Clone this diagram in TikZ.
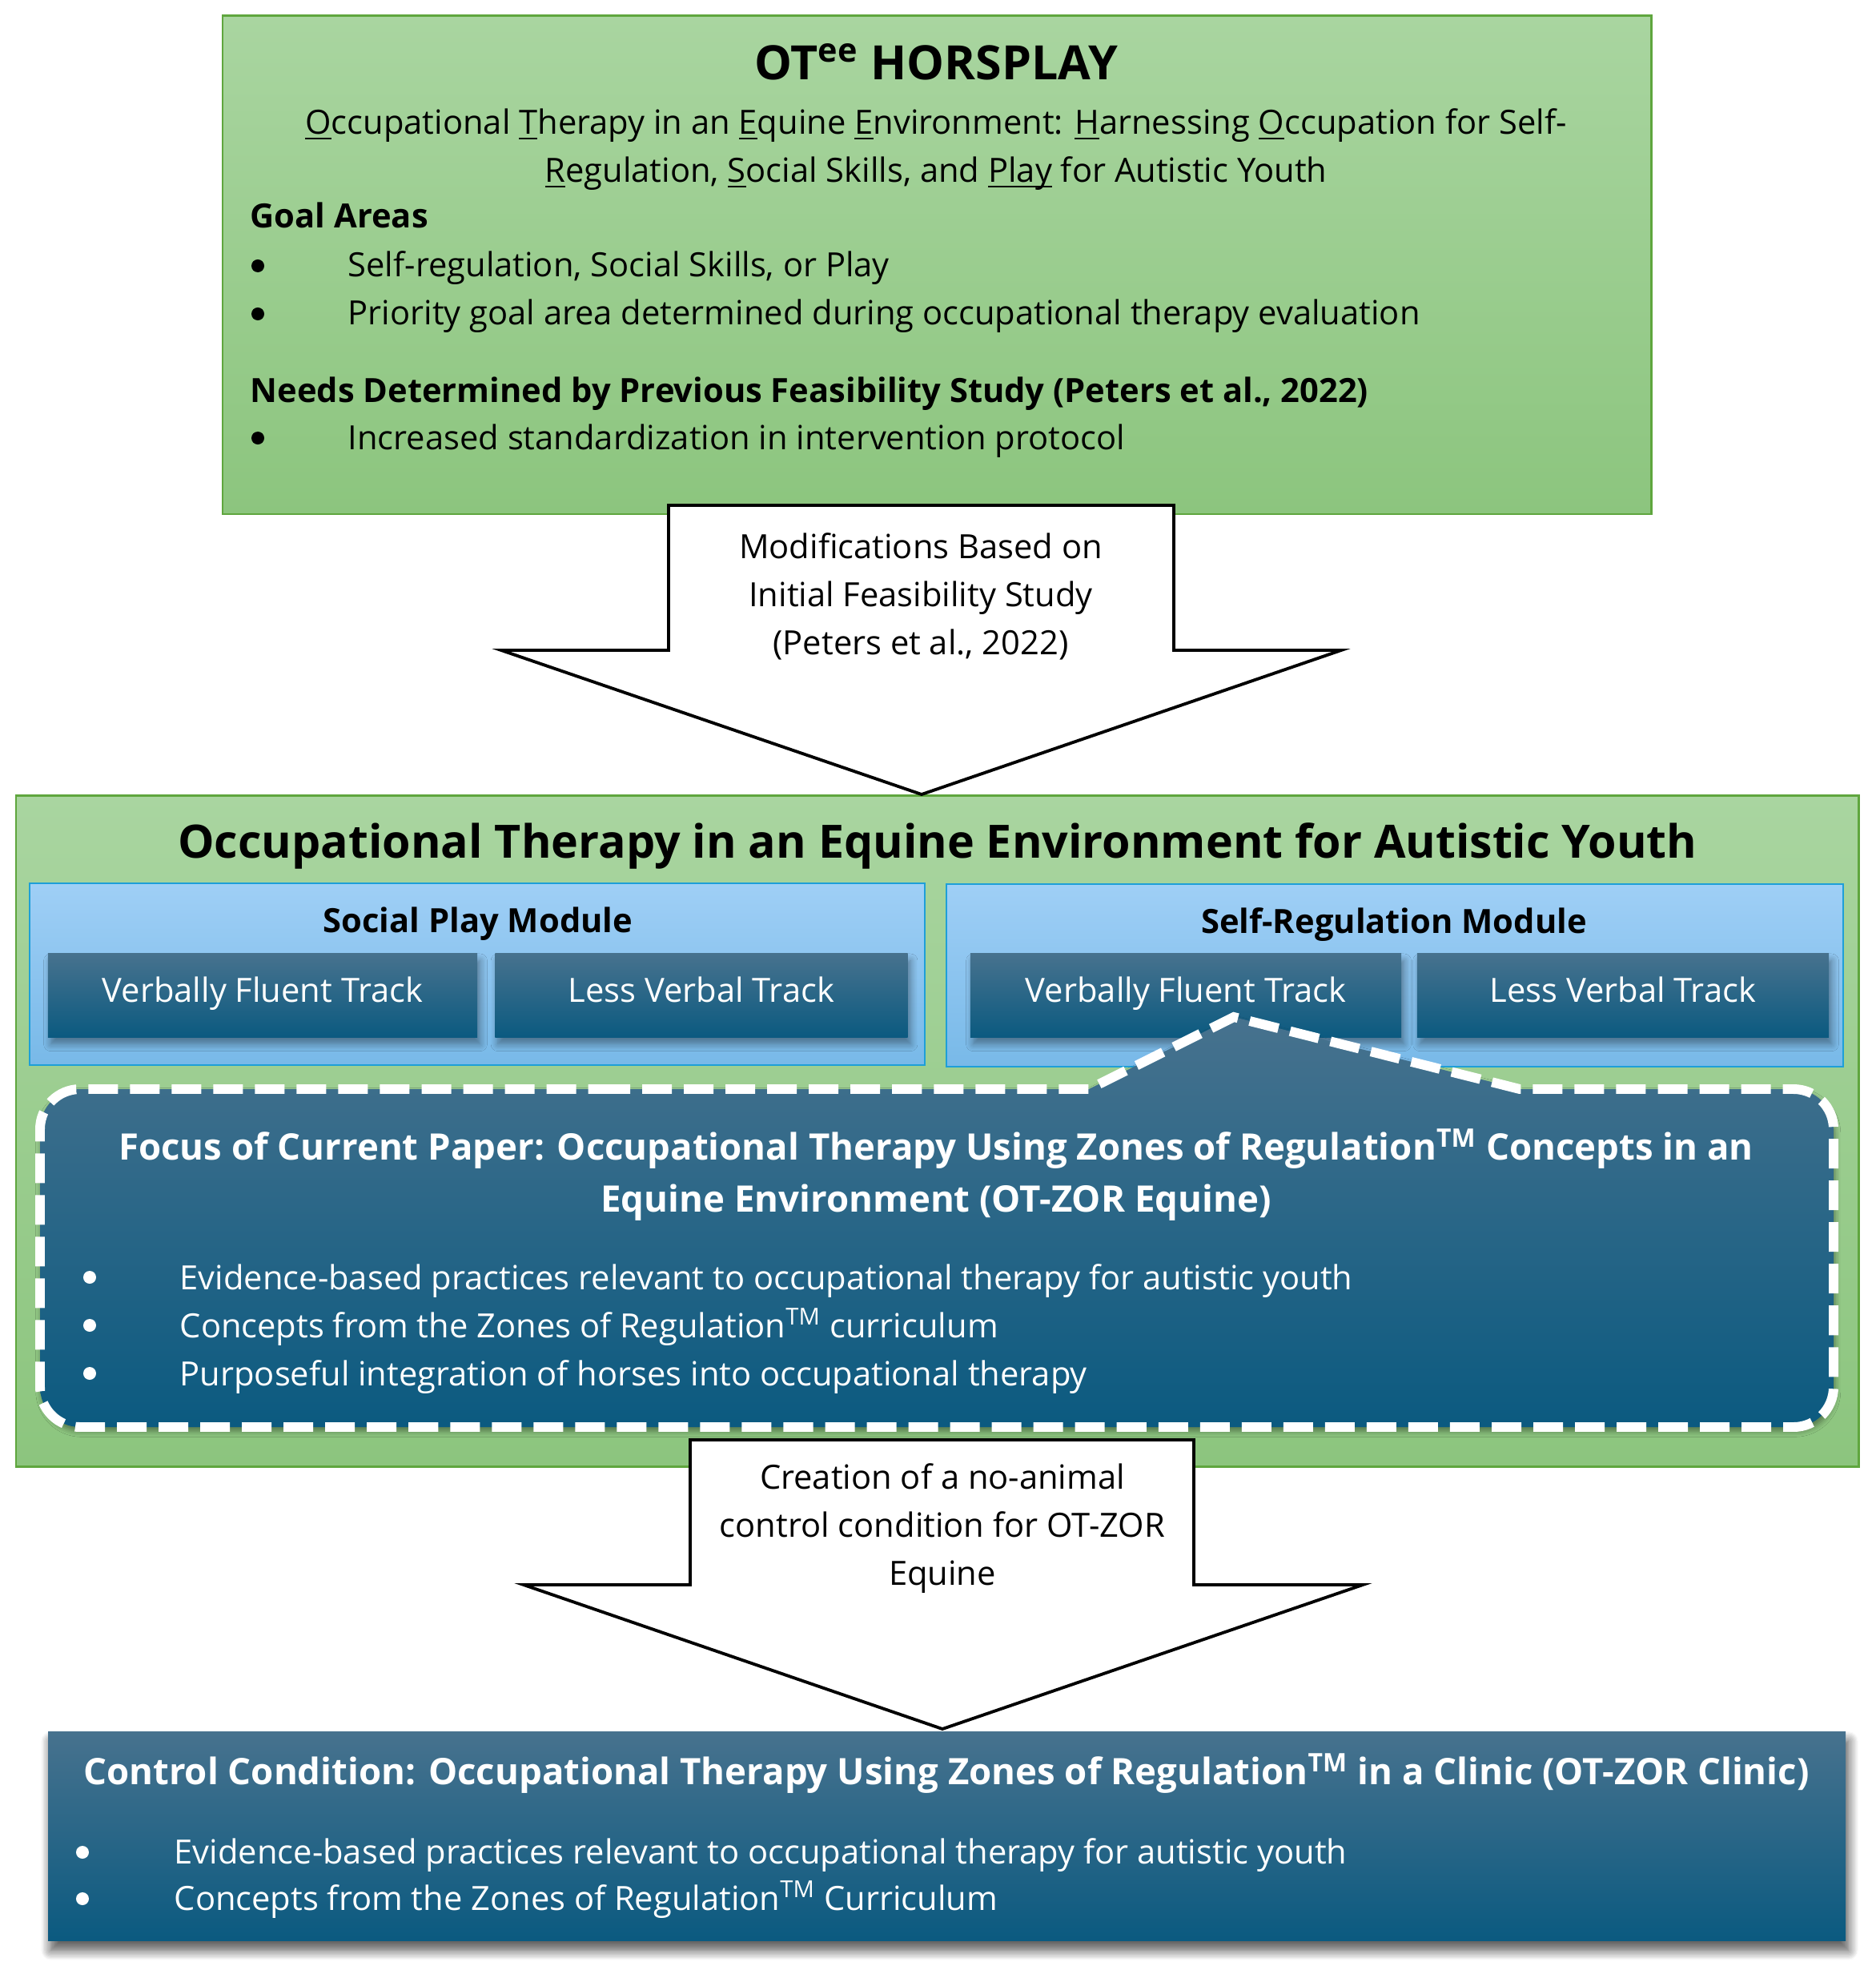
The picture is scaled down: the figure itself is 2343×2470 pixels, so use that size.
\documentclass[tikz,border=0pt]{standalone}
\usepackage{fontspec}
\setmainfont{Open Sans}
\usetikzlibrary{shadows.blur}

\definecolor{greentop}{HTML}{A9D5A0}
\definecolor{greenbot}{HTML}{8CC57E}
\definecolor{greenline}{HTML}{5FA63E}
\definecolor{modtop}{HTML}{9FCFF6}
\definecolor{modbot}{HTML}{78B9E8}
\definecolor{modline}{HTML}{1E9FD8}
\definecolor{darktop}{HTML}{47728E}
\definecolor{darkbot}{HTML}{0B5A80}

\newcommand{\txtbody}{\fontsize{11.85pt}{17pt}\selectfont}
\newcommand{\txthead}{\fontsize{11.85pt}{17pt}\selectfont\bfseries}
\newcommand{\txtbox}{\fontsize{12.95pt}{18pt}\selectfont\bfseries}
\newcommand{\txttitle}{\fontsize{16.3pt}{20pt}\selectfont\bfseries}
\newcommand{\ulit}[1]{\underline{\smash{#1}}}

\begin{document}
\begin{tikzpicture}[x=0.01cm,y=-0.01cm]
			\tikzstyle{greenbox} = [draw = greenline, line width = 0.85pt, top color = greentop, bottom color = greenbot]
			\tikzstyle{modbox} = [draw = modline, line width = 0.8pt, top color = modtop, bottom color = modbot]
			\tikzstyle{darkbox} = [top color = darktop, bottom color = darkbot,
				blur shadow = {shadow xshift = 1pt, shadow yshift = -2.5pt, shadow blur steps = 8, shadow blur radius = 2.5pt}]
			\tikzstyle{track} = [darkbox, text = white, inner sep = 0pt, font = \txtbody,
				text height = 0.72em, text depth = 0.22em]
			\tikzstyle{bigarrow} = [draw = black, line width = 1.1pt, fill = white, line join = miter]
			\tikzstyle{txt} = [inner sep = 0pt, font = \txtbody]
			\tikzstyle{wtxt} = [txt, text = white]
			\tikzstyle{dot} = [circle, fill = black, inner sep = 0pt, minimum size = 0.16cm]
			\tikzstyle{wdot} = [dot, fill = white]
			\useasboundingbox (0,0) rectangle (2343,2470);
			% top box
			\path[greenbox] (278,20) rectangle (2062,642);
			\node[txt, anchor = base, font = \txttitle, font = \fontsize{16.8pt}{20pt}\selectfont\bfseries] (hors) at (1169,100) {OT\textsuperscript{ee} HORSPLAY};
			\node[txt, anchor = base] (sub1) at (1169,168) {\ulit{O}ccupational \ulit{T}herapy in an \ulit{E}quine \ulit{E}nvironment: \ulit{H}arnessing \ulit{O}ccupation for Self-};
			\node[txt, anchor = base] (sub2) at (1169,228) {\ulit{R}egulation, \ulit{S}ocial Skills, and \ulit{Play} for Autistic Youth};
			\node[txt, anchor = base west, font = \txthead] (goal) at (312,285) {Goal Areas};
			\node[dot] (b1) at (322,332) {};
			\node[txt, anchor = base west] (g1) at (434,346) {Self-regulation, Social Skills, or Play};
			\node[dot] (b2) at (322,392) {};
			\node[txt, anchor = base west] (g2) at (434,406) {Priority goal area determined during occupational therapy evaluation};
			\node[txt, anchor = base west, font = \txthead] (needs) at (312,502) {Needs Determined by Previous Feasibility Study (Peters et al., 2022)};
			\node[dot] (b3) at (322,547) {};
			\node[txt, anchor = base west] (n1) at (434,561) {Increased standardization in intervention protocol};
			% middle box
			\path[greenbox] (20,993) rectangle (2321,1831);
			\node[txt, anchor = base, font = \txttitle] (otee) at (1171,1071) {Occupational Therapy in an Equine Environment for Autistic Youth};
			\path[modbox] (37,1103) rectangle (1155,1330);
			\path[modbox] (1182,1104) rectangle (2302,1332);
			\node[txt, anchor = base, font = \txthead] (social) at (597,1164) {Social Play Module};
			\node[txt, anchor = base, font = \txthead] (selfreg) at (1741,1165) {Self-Regulation Module};
			\node[track, minimum width = 5.36cm, minimum height = 1.04cm] (t1) at (328,1243) {Verbally Fluent Track};
			\node[track, minimum width = 5.15cm, minimum height = 1.04cm] (t2) at (876,1243) {Less Verbal Track};
			\node[track, minimum width = 5.38cm, minimum height = 1.04cm] (t3) at (1481,1243) {Verbally Fluent Track};
			\node[track, minimum width = 5.14cm, minimum height = 1.04cm] (t4) at (2027,1243) {Less Verbal Track};
			% focus callout
			\path[top color = darktop, bottom color = darkbot, draw = white, line width = 3.4pt,
				dash pattern = on 0.37cm off 0.15cm,
				blur shadow = {shadow xshift = 0.5pt, shadow yshift = -1.5pt, shadow blur radius = 2pt}]
				(700,1360) -- (1360,1360) -- (1541,1270) -- (1898,1360) [rounded corners = 0.5cm] -- (2290,1360)
				-- (2290,1782) -- (50,1782) -- (50,1360) -- cycle;
			\node[wtxt, anchor = base, font = \txtbox] (foc1) at (1169,1448) {Focus of Current Paper: Occupational Therapy Using Zones of Regulation\textsuperscript{TM} Concepts in an};
			\node[wtxt, anchor = base, font = \txtbox] (foc2) at (1169,1513) {Equine Environment (OT-ZOR Equine)};
			\node[wdot] (c1) at (112,1595) {};
			\node[wtxt, anchor = base west] (f1) at (224,1610) {Evidence-based practices relevant to occupational therapy for autistic youth};
			\node[wdot] (c2) at (112,1655) {};
			\node[wtxt, anchor = base west] (f2) at (224,1670) {Concepts from the Zones of Regulation\textsuperscript{TM} curriculum};
			\node[wdot] (c3) at (112,1715) {};
			\node[wtxt, anchor = base west] (f3) at (224,1730) {Purposeful integration of horses into occupational therapy};
			% arrows
			\draw[bigarrow] (835,631) -- (1466,631) -- (1466,812) -- (1675,812) -- (1151,992) -- (626,812) -- (835,812) -- cycle;
			\node[txt, anchor = base] (m1) at (1150,697) {Modifications Based on};
			\node[txt, anchor = base] (m2) at (1150,757) {Initial Feasibility Study};
			\node[txt, anchor = base] (m3) at (1150,817) {(Peters et al., 2022)};
			\draw[bigarrow] (862,1798) -- (1491,1798) -- (1491,1979) -- (1702,1979) -- (1177,2159) -- (654,1979) -- (862,1979) -- cycle;
			\node[txt, anchor = base] (k1) at (1177,1859) {Creation of a no-animal};
			\node[txt, anchor = base] (k2) at (1177,1919) {control condition for OT-ZOR};
			\node[txt, anchor = base] (k3) at (1177,1979) {Equine};
			% control condition
			\path[darkbox, blur shadow = {shadow xshift = 1pt, shadow yshift = -3.5pt, shadow blur steps = 10, shadow blur radius = 3.5pt}]
				(60,2162) rectangle (2305,2423);
			\node[wtxt, anchor = base, font = \txtbox] (ctrl) at (1182,2228) {Control Condition: Occupational Therapy Using Zones of Regulation\textsuperscript{TM} in a Clinic (OT-ZOR Clinic)};
			\node[wdot] (d1) at (103,2313) {};
			\node[wtxt, anchor = base west] (e1) at (217,2327) {Evidence-based practices relevant to occupational therapy for autistic youth};
			\node[wdot] (d2) at (103,2371) {};
			\node[wtxt, anchor = base west] (e2) at (217,2385) {Concepts from the Zones of Regulation\textsuperscript{TM} Curriculum};
		\end{tikzpicture}
\end{document}
